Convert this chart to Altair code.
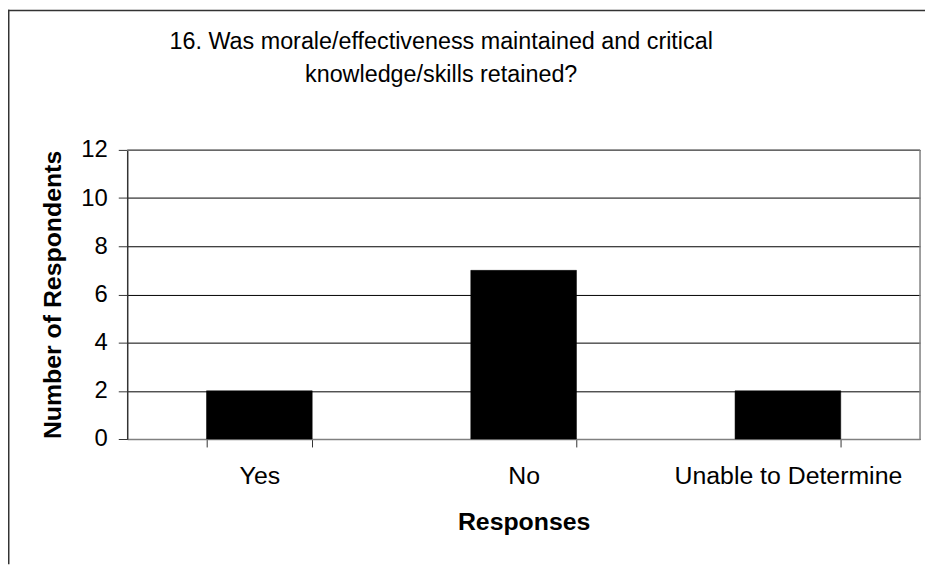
import altair as alt
import pandas as pd

categories = ["Yes", "No", "Unable to Determine"]
counts = [2, 7, 2]
title_lines = ["16. Was morale/effectiveness maintained and critical",
               "knowledge/skills retained?"]
y_ticks = [0, 2, 4, 6, 8, 10, 12]
x_title = "Responses"
y_title = "Number of Respondents"

df = pd.DataFrame({"response": categories, "count": counts})

W, H = 798, 291
PL, PT, PR, PB = 120, 141, 5, 126
FONT = "Liberation Sans"

bars = alt.Chart(df).mark_bar(color="#000000", stroke="#000000", strokeWidth=0.5).encode(
    x=alt.X("response:N", sort=categories,
            scale=alt.Scale(paddingInner=0.6, paddingOuter=0.3),
            axis=alt.Axis(title=x_title, labelAngle=0, tickBand="extent",
                          labelFont=FONT, labelFontSize=25, labelColor="#000000",
                          labelBaseline="alphabetic", labelPadding=37, labelLimit=0,
                          tickSize=8, tickColor="#333333", tickWidth=1,
                          domainColor="#808080", domainWidth=1.5,
                          titleFont=FONT, titleFontSize=25, titleFontWeight="bold",
                          titleColor="#000000", titleX=W / 2, titleY=91,
                          titleAlign="center", titleBaseline="alphabetic")),
    y=alt.Y("count:Q", scale=alt.Scale(domain=[0, 12], nice=False),
            axis=alt.Axis(values=y_ticks, title=y_title, grid=True,
                          gridColor="#000000", gridWidth=1,
                          labelFont=FONT, labelFontSize=24, labelColor="#000000",
                          labelPadding=11, tickSize=9, tickColor="#333333",
                          domainColor="#333333", domainWidth=1.5,
                          titleFont=FONT, titleFontSize=25, titleFontWeight="bold",
                          titleColor="#000000", titleAngle=270, titleX=-67,
                          titleY=H / 2, titleAlign="center", titleLimit=0,
                          titleBaseline="alphabetic")),
)

one = pd.DataFrame({"k": [0]})

top_border = alt.Chart(one).mark_rule(color="#808080", strokeWidth=1.5).encode(
    x=alt.value(0), x2=alt.value(W), y=alt.value(0))
right_border = alt.Chart(one).mark_rule(color="#808080", strokeWidth=1.5).encode(
    x=alt.value(W), y=alt.value(0), y2=alt.value(H))

outer_top = alt.Chart(one).mark_rule(color="#333333", strokeWidth=1.5).encode(
    x=alt.value(-PL), x2=alt.value(W + PR), y=alt.value(-PT + 0.75))
outer_left = alt.Chart(one).mark_rule(color="#333333", strokeWidth=1.5).encode(
    x=alt.value(-PL + 0.75), y=alt.value(-PT), y2=alt.value(H + PB))

t1 = alt.Chart(pd.DataFrame({"t": [title_lines[0]]})).mark_text(
    font=FONT, fontSize=23.5, align="center", baseline="alphabetic", color="#000000"
).encode(text="t:N", x=alt.value(316), y=alt.value(-102))
t2 = alt.Chart(pd.DataFrame({"t": [title_lines[1]]})).mark_text(
    font=FONT, fontSize=23.5, align="center", baseline="alphabetic", color="#000000"
).encode(text="t:N", x=alt.value(316), y=alt.value(-68))

chart = alt.layer(bars, top_border, right_border, outer_top, outer_left, t1, t2).properties(
    width=W, height=H,
    autosize=alt.AutoSizeParams(type="none"),
    padding={"left": PL, "top": PT, "right": PR, "bottom": PB},
    background="#ffffff",
).configure_view(stroke="transparent")

chart.save("out.html", embed_options={"renderer": "svg", "actions": False})
